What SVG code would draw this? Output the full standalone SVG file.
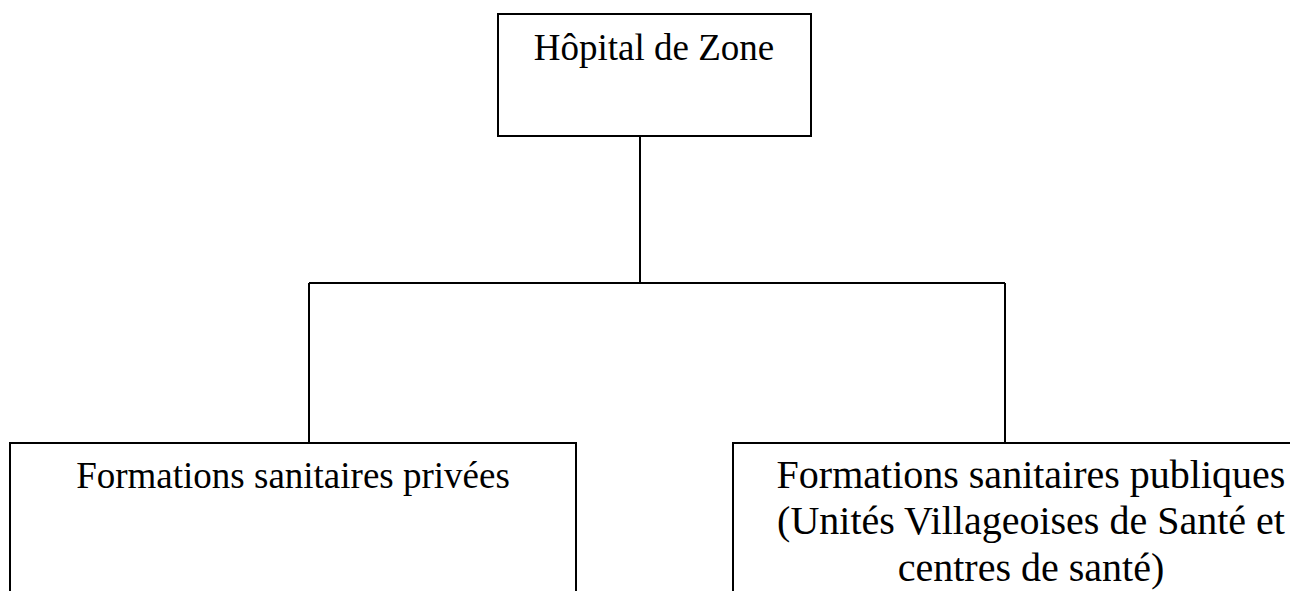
<svg xmlns="http://www.w3.org/2000/svg" width="1290" height="591" viewBox="0 0 1290 591">
<style>
.box{fill:#fff;stroke:#000;stroke-width:2}
.conn{fill:none;stroke:#000;stroke-width:2}
.t{font-family:"Liberation Serif","Times New Roman",serif;font-size:37px;fill:#000;text-anchor:middle}
.t2{font-size:40px}
</style>
<rect width="1290" height="591" fill="#fff"/>
<g id="connectors">
<path class="conn" d="M640,136 V283"/>
<path class="conn" d="M309,283 H1005"/>
<path class="conn" d="M309,283 V443"/>
<path class="conn" d="M1005,283 V443"/>
</g>
<g id="hopital">
<rect class="box" x="498" y="14" width="313" height="122"/>
<text class="t" x="654" y="60">Hôpital de Zone</text>
</g>
<g id="privees">
<rect class="box" x="10" y="443" width="566" height="170"/>
<text class="t" x="293" y="488">Formations sanitaires privées</text>
</g>
<g id="publiques">
<rect class="box" x="733" y="443" width="596" height="170"/>
<text class="t t2" x="1031" y="488">Formations sanitaires publiques</text>
<text class="t t2" x="1031" y="534">(Unités Villageoises de Santé et</text>
<text class="t t2" x="1031" y="581">centres de santé)</text>
</g>
</svg>
